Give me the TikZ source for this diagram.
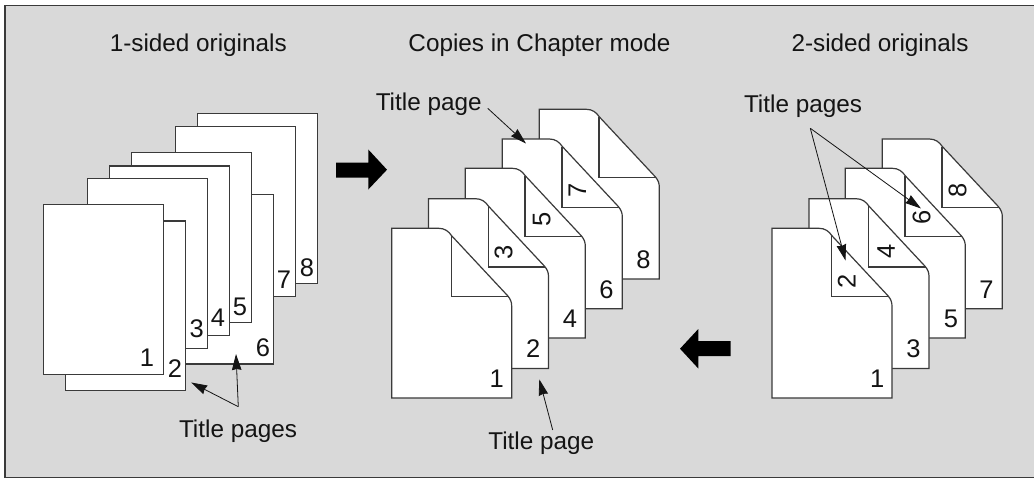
\documentclass[tikz,border=0pt]{standalone}
\usepackage{fontspec}
\setmainfont{Liberation Sans}
\usetikzlibrary{arrows.meta}
\definecolor{panel}{HTML}{D9D9D9}
\definecolor{edge}{HTML}{3A3A3A}
\definecolor{ink}{HTML}{141414}
\tikzset{
  x=1pt,y=-1pt,
  sheet/.style={draw=edge,fill=white,line width=1.2pt},
  crease/.style={draw=edge,line width=1.1pt},
  label/.style={text=ink,font=\fontsize{24.3}{28}\selectfont,anchor=base,inner sep=0pt},
  digit/.style={text=ink,font=\fontsize{25.5}{28}\selectfont,anchor=center,inner sep=0pt},
  fdigit/.style={digit,rotate=90},
  pointer/.style={draw=ink,line width=0.8pt,-{Stealth[length=16pt,width=9.5pt,inset=1pt]}},
  bigarrow/.style={fill=black,draw=none},
  flatsheet/.pic={\path[sheet] (0,0) rectangle (120,169.6);},
  foldsheet/.pic={
    \path[sheet] (0,0) -- (47,0) .. controls (53,0) and (57,3) .. (60,7.5)
      -- (116,67.5) .. controls (119,71) and (120,74) .. (120,78)
      -- (120,169.7) -- (0,169.7) -- cycle;
    \path[crease] (59.7,7.5) -- (59.7,68.3) -- (116.5,68.3);
  }
}
\begin{document}
\begin{tikzpicture}
\useasboundingbox (0,0) rectangle (1034,479);
\fill[panel] (5,5.5) rectangle (1034,477.3);
\draw[edge,line width=1.3pt] (1034,5.5) -- (5,5.5) -- (5,477.3) -- (1034,477.3);

% titles
\node[label] (t1) at (198.3,51.7) {1-sided originals};
\node[label] (t2) at (539.5,51.7) {Copies in Chapter mode};
\node[label] (t3) at (880,51.7) {2-sided originals};

% left stack
\pic at (197.5,113.5) {flatsheet};
\pic at (175.5,126.5) {flatsheet};
\pic at (153.5,194.3) {flatsheet};
\pic at (131.5,152.5) {flatsheet};
\pic at (109.5,166) {flatsheet};
\pic at (87.5,178.5) {flatsheet};
\pic at (65.5,221) {flatsheet};
\pic at (43.5,204.5) {flatsheet};
\node[digit] (la) at (147,358) {1};
\node[digit] (lb) at (175,369) {2};
\node[digit] (lc) at (196.7,329) {3};
\node[digit] (ld) at (218,318) {4};
\node[digit] (le) at (240,306.7) {5};
\node[digit] (lf) at (263,347.7) {6};
\node[digit] (lg) at (284,280) {7};
\node[digit] (lh) at (307,267.7) {8};

% middle stack
\pic at (539.3,109.3) {foldsheet};
\pic at (502.3,139) {foldsheet};
\pic at (465.3,168.3) {foldsheet};
\pic at (428.5,198.7) {foldsheet};
\pic at (391.7,228.3) {foldsheet};
\node[digit] (ma) at (496.7,379) {1};
\node[digit] (mb) at (533.3,349) {2};
\node[digit] (md) at (570,319) {4};
\node[digit] (mf) at (606.5,289.5) {6};
\node[digit] (mh) at (643.5,260) {8};
\node[fdigit] (mc) at (503.5,252.7) {3};
\node[fdigit] (me) at (541.7,219) {5};
\node[fdigit] (mg) at (577.3,190) {7};

% right stack
\pic at (882.3,139) {foldsheet};
\pic at (845.3,168.3) {foldsheet};
\pic at (809,198.7) {foldsheet};
\pic at (772,228.3) {foldsheet};
\node[digit] (ra) at (877.3,379) {1};
\node[digit] (rc) at (913.5,349) {3};
\node[digit] (re) at (951,319) {5};
\node[digit] (rg) at (986.5,289.5) {7};
\node[fdigit] (rb) at (846.7,281.7) {2};
\node[fdigit] (rd) at (886,251) {4};
\node[fdigit] (rf) at (921.7,217.7) {6};
\node[fdigit] (rh) at (957.7,190) {8};

% big arrows
\fill[bigarrow] (336,162.5) -- (368.3,162.5) -- (368.3,149.5) -- (387,169.7) -- (368.3,189.5) -- (368.3,177.5) -- (336,177.5) -- cycle;
\fill[bigarrow] (730.7,341) -- (698.3,341) -- (698.3,329) -- (680,348.7) -- (698.3,368.5) -- (698.3,356) -- (730.7,356) -- cycle;

% call-outs
\node[label] (cl) at (238,437.3) {Title pages};
\node[label] (cmt) at (428.7,110.7) {Title page};
\node[label] (cmb) at (541.3,449.3) {Title page};
\node[label] (cr) at (803,112.7) {Title pages};

\coordinate (lapex) at (238.3,406.7);
\coordinate (ltarga) at (191.2,382.5);
\coordinate (ltargb) at (236,354);
\draw[pointer] (lapex) -- (ltarga);
\draw[pointer] (lapex) -- (ltargb);

\coordinate (mts) at (487.7,108.3);
\coordinate (mtt) at (526,143.5);
\draw[pointer] (mts) -- (mtt);
\coordinate (mbs) at (552.7,430);
\coordinate (mbt) at (539.3,379.3);
\draw[pointer] (mbs) -- (mbt);

\coordinate (rapex) at (810.3,128.3);
\coordinate (rtarga) at (921,208.5);
\coordinate (rtargb) at (845.5,260.5);
\draw[pointer] (rapex) -- (rtarga);
\draw[pointer] (rapex) -- (rtargb);
\end{tikzpicture}
\end{document}
